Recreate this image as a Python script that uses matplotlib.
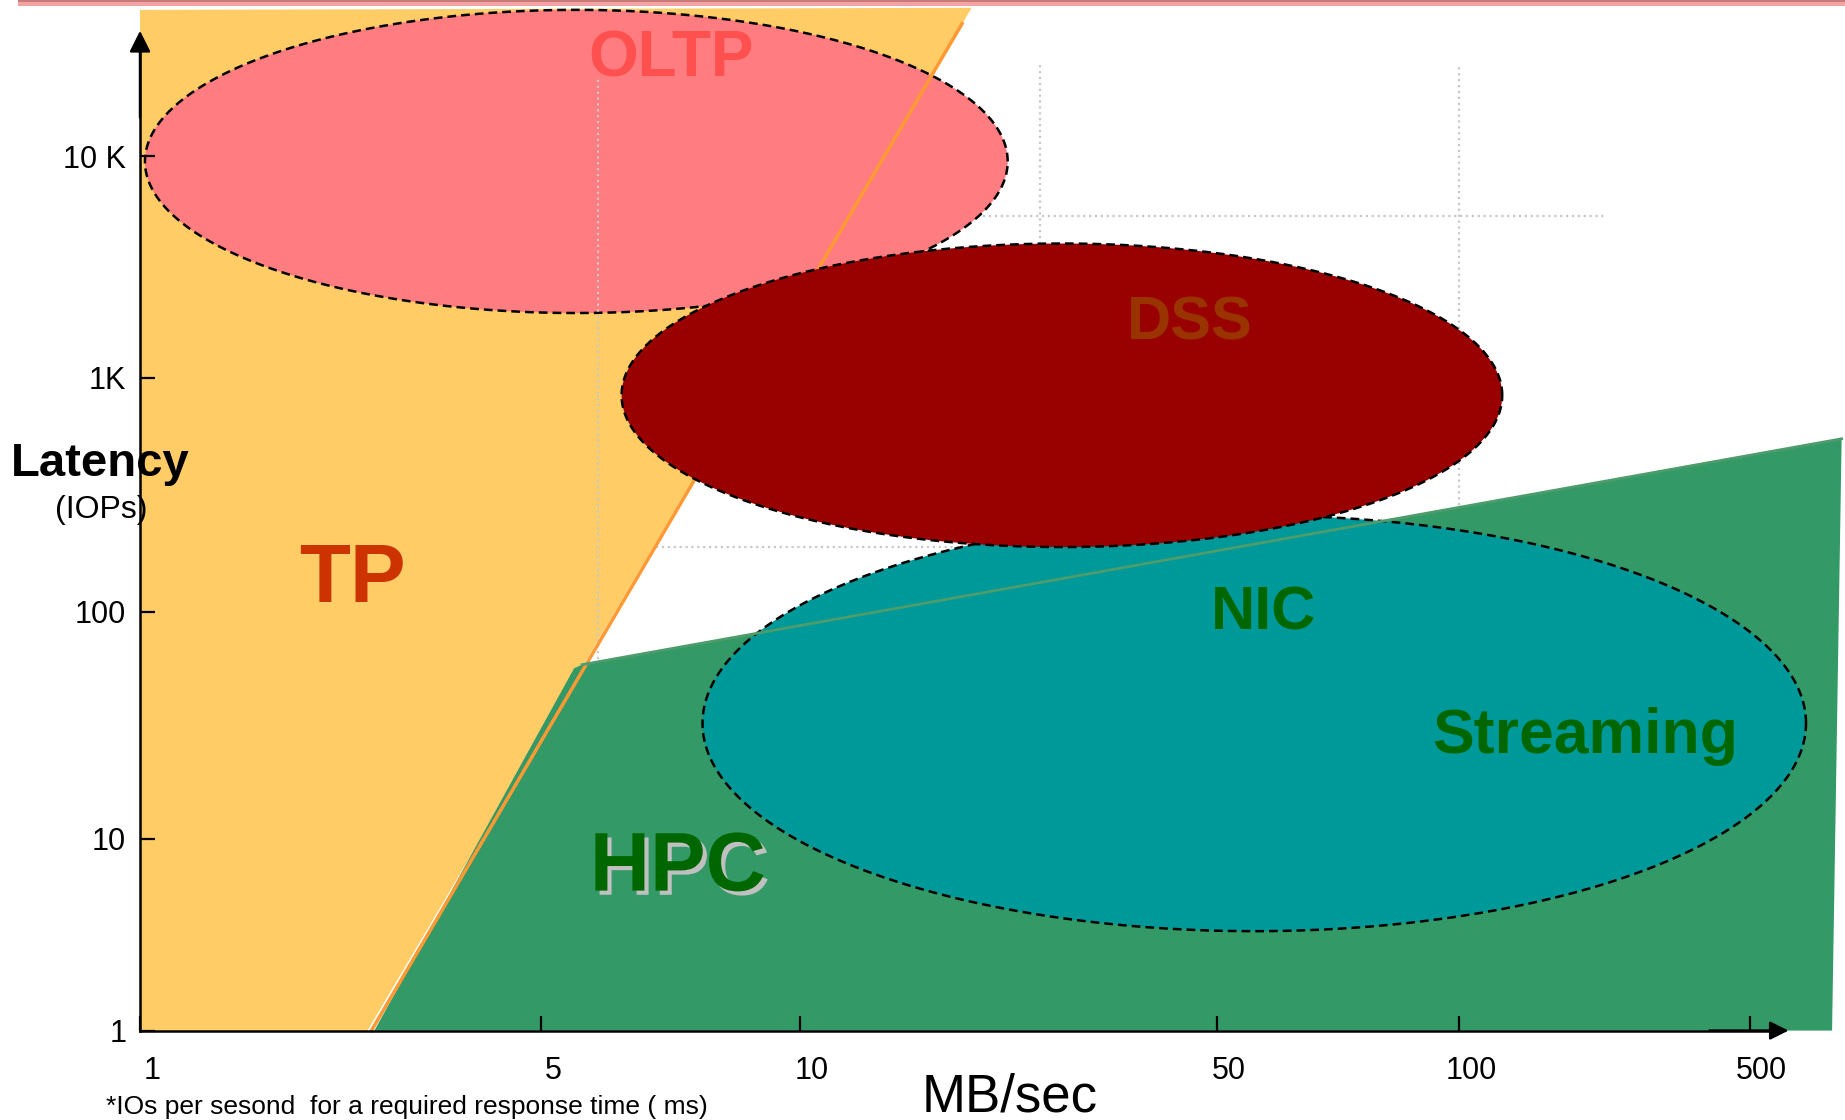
import numpy as np
import matplotlib
matplotlib.use('Agg')
import matplotlib.pyplot as plt
import matplotlib.patheffects as pe
from matplotlib.patches import Rectangle
from matplotlib.transforms import ScaledTranslation

plt.rcParams['font.family'] = ['Liberation Sans', 'DejaVu Sans']

# axis ticks (MB/sec and IOPs)
x_ticks = [1, 5, 10, 50, 100, 500]
x_tick_labels = ['1', '5', '10', '50', '100', '500']
y_ticks = [1, 10, 100, 1000, 10000]
y_tick_labels = ['1', '10', '100', '1K', '10 K']

# TP region (yellow) and its orange border line
tp_x = [1, 19.4, 2.49, 1]
tp_y = [46000, 47000, 1, 1]
border_x = [18.7, 2.53]
border_y = [39900, 1]

# HPC region (green)
hpc_x = [2.56, 5.46, 5.58, 832, 789]
hpc_y = [1, 56.4, 58.5, 548, 1]

# workload ellipses: MB/sec range and IOPs range
ell_names = ['OLTP', 'DSS', 'NIC']
ell_x_lo = [1.02, 6.2, 7.7]
ell_x_hi = [22.3, 127, 683]
ell_y_lo = [1960, 189, 3.3]
ell_y_hi = [46000, 4040, 258]

# region labels
lab_text = ['OLTP', 'DSS', 'TP', 'NIC', 'Streaming', 'HPC']
lab_x = [7.07, 45.0, 2.34, 57.2, 201, 7.21]
lab_y = [23000, 1480, 110, 83.6, 23.9, 5.37]

# dotted guide lines
vgrid_x = [5.82, 25.3, 100]
vgrid_top = [23000, 26000, 26000]
vgrid_bot = [58, 4040, 240]
hgrid_y = [5360, 189]
hgrid_lo = [20.3, 6.79]
hgrid_hi = [224, 100]

# the hand-drawn axes are not a clean log scale: tick spots on the canvas
X_TICK_POS = [119, 460, 680, 1034, 1240, 1487]
Y_TICK_POS = [76, 239, 432, 631, 819]
CANVAS_W, CANVAS_H = 1568, 952


def make_scale(vals, pos):
    lv = np.log10(np.asarray(vals, float))
    pos = np.asarray(pos, float)
    s0 = (pos[1] - pos[0]) / (lv[1] - lv[0])
    s1 = (pos[-1] - pos[-2]) / (lv[-1] - lv[-2])

    def fwd(v):
        l = np.log10(np.clip(np.asarray(v, float), 1e-9, None))
        p = np.interp(l, lv, pos)
        p = np.where(l < lv[0], pos[0] + (l - lv[0]) * s0, p)
        p = np.where(l > lv[-1], pos[-1] + (l - lv[-1]) * s1, p)
        return p

    def inv(p):
        p = np.asarray(p, float)
        l = np.interp(p, pos, lv)
        l = np.where(p < pos[0], lv[0] + (p - pos[0]) / s0, l)
        l = np.where(p > pos[-1], lv[-1] + (p - pos[-1]) / s1, l)
        return 10 ** l

    return fwd, inv


fx, ix = make_scale(x_ticks, X_TICK_POS)
fy, iy = make_scale(y_ticks, Y_TICK_POS)

fig = plt.figure(figsize=(18.45, 11.2), dpi=100)
ax = fig.add_axes([0, 0, 1, 1])
ax.set_xscale('function', functions=(fx, ix))
ax.set_yscale('function', functions=(fy, iy))


def ellipse(x0, x1, y0, y1, n=400):
    px0, px1 = fx(x0), fx(x1)
    py0, py1 = fy(y0), fy(y1)
    t = np.linspace(0, 2 * np.pi, n)
    px = (px0 + px1) / 2 + (px1 - px0) / 2 * np.cos(t)
    py = (py0 + py1) / 2 + (py1 - py0) / 2 * np.sin(t)
    return ix(px), iy(py)


dash = (0, (3.5, 2))
ell_lw = 1.8

ax.fill(tp_x, tp_y, color='#FFCC66', lw=0, zorder=1)

xs, ys = ellipse(ell_x_lo[0], ell_x_hi[0], ell_y_lo[0], ell_y_hi[0])
ax.fill(xs, ys, fc='#FF7C80', ec='black', lw=ell_lw, ls=dash, zorder=3)

for vx, vt, vb in zip(vgrid_x, vgrid_top, vgrid_bot):
    ax.plot([vx, vx], [vb, vt], color='#C8C8C8', lw=1.6, ls=':', zorder=3.5)
for hy, hl, hh in zip(hgrid_y, hgrid_lo, hgrid_hi):
    ax.plot([hl, hh], [hy, hy], color='#C8C8C8', lw=1.6, ls=':', zorder=2.5)

ax.fill(hpc_x, hpc_y, color='#339966', lw=0, zorder=4)
ax.plot(border_x, border_y, color='#FF9933', lw=2.5, zorder=4.5)

xs, ys = ellipse(ell_x_lo[2], ell_x_hi[2], ell_y_lo[2], ell_y_hi[2])
ax.fill(xs, ys, fc='#009999', ec='black', lw=ell_lw, ls=dash, zorder=5)
ax.plot(hpc_x[2:4], hpc_y[2:4], color='#4C9C6C', lw=2, zorder=5.5)

xs, ys = ellipse(ell_x_lo[1], ell_x_hi[1], ell_y_lo[1], ell_y_hi[1])
ax.fill(xs, ys, fc='#990000', ec='black', lw=ell_lw, ls=dash, zorder=6)

lab_colors = ['#FF5050', '#993300', '#CC3300', '#006600', '#006600', '#006600']
lab_sizes = [46, 44, 60, 44, 45, 60]
for txt, x, y, c, s in zip(lab_text, lab_x, lab_y, lab_colors, lab_sizes):
    t = ax.text(x, y, txt, color=c, fontsize=s, fontweight='bold',
                ha='center', va='baseline', zorder=10)
    if txt == 'HPC':
        t.set_path_effects([pe.withSimplePatchShadow(offset=(3, -3),
                                                     shadow_rgbFace='#C0C0C0',
                                                     alpha=1)])

# axes drawn as arrows through (1, 1)
for side in ['top', 'right']:
    ax.spines[side].set_visible(False)
ax.spines['left'].set_position(('data', 1))
ax.spines['bottom'].set_position(('data', 1))
ax.spines['left'].set_bounds(1, 30000)
ax.spines['bottom'].set_bounds(1, 560)
for side in ['left', 'bottom']:
    ax.spines[side].set_linewidth(1.8)
    ax.spines[side].set_zorder(9)
ax.xaxis.set_zorder(9)
ax.yaxis.set_zorder(9)

ax.annotate('', xy=(1, 37000), xytext=(1, 15000),
            arrowprops=dict(arrowstyle='-|>', color='black', lw=1.8,
                            mutation_scale=32, shrinkA=0, shrinkB=0), zorder=9)
ax.annotate('', xy=(620, 1), xytext=(400, 1),
            arrowprops=dict(arrowstyle='-|>', color='black', lw=1.8,
                            mutation_scale=28, shrinkA=0, shrinkB=0), zorder=9)

ax.set_xticks(x_ticks, x_tick_labels)
ax.set_yticks(y_ticks, y_tick_labels)
ax.minorticks_off()
ax.tick_params(axis='both', direction='in', length=11, width=1.6,
               labelsize=22, colors='black')
ax.tick_params(axis='x', pad=18)
ax.tick_params(axis='y', pad=10)
shift = ScaledTranslation(12 / 100, 0, fig.dpi_scale_trans)
for lab in ax.get_xticklabels():
    lab.set_transform(lab.get_transform() + shift)

ax.set_xlim(float(ix(0)), float(ix(CANVAS_W)))
ax.set_ylim(float(iy(0)), float(iy(CANVAS_H)))

fig.text(0.0542, 1 - 405 / CANVAS_H, 'Latency', fontsize=34, fontweight='bold',
         ha='center', va='baseline')
fig.text(0.0548, 1 - 440 / CANVAS_H, '(IOPs)', fontsize=23,
         ha='center', va='baseline')
fig.text(0.547, 1 - 945 / CANVAS_H, 'MB/sec', fontsize=38,
         ha='center', va='baseline')
fig.text(0.0574, 1 - 947 / CANVAS_H,
         '*IOs per sesond  for a required response time ( ms)',
         fontsize=19, ha='left', va='baseline')

# thin pink rule along the top edge
fig.patches.append(Rectangle((0.0096, 0.9945), 0.9904, 0.0055,
                             transform=fig.transFigure, color='#F4A3A3', lw=0))
fig.patches.append(Rectangle((0.0096, 0.9985), 0.9904, 0.0015,
                             transform=fig.transFigure, color='#C87A7A', lw=0))

fig.savefig('out.png', dpi=100)
